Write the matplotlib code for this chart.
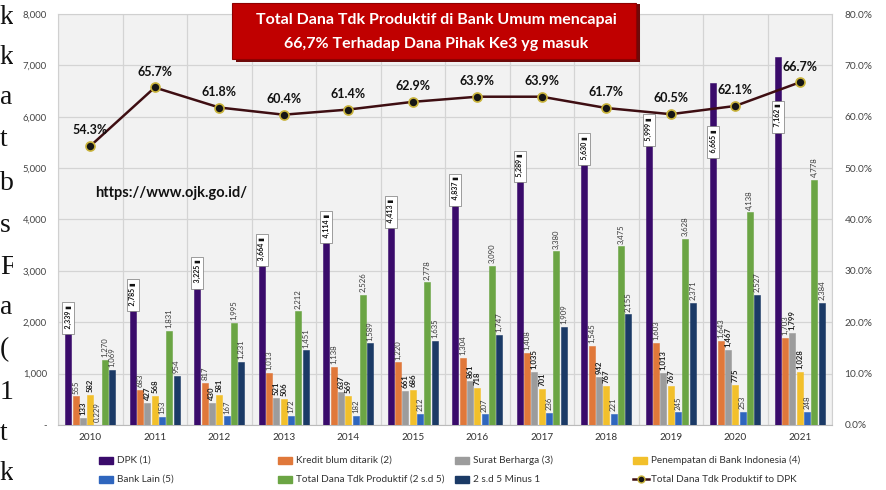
import matplotlib
matplotlib.use("Agg")
import matplotlib.pyplot as plt
from matplotlib.patches import Rectangle, FancyBboxPatch
from matplotlib.lines import Line2D
import numpy as np

plt.rcParams['font.family'] = ['Liberation Sans Narrow', 'Lato', 'DejaVu Sans']

years = ["2010", "2011", "2012", "2013", "2014", "2015", "2016", "2017", "2018", "2019", "2020", "2021"]
dpk = [2339, 2785, 3225, 3664, 4114, 4413, 4837, 5289, 5630, 5999, 6665, 7162]
kredit_blum_ditarik = [555, 683, 817, 1013, 1138, 1220, 1304, 1408, 1545, 1603, 1643, 1703]
surat_berharga = [133, 427, 430, 521, 637, 661, 861, 1035, 942, 1013, 1467, 1799]
penempatan_bi = [582, 568, 581, 506, 569, 686, 718, 701, 767, 767, 775, 1028]
bank_lain = [0.229, 153, 167, 172, 182, 212, 207, 236, 221, 245, 253, 248]
total_tdk_produktif = [1270, 1831, 1995, 2212, 2526, 2778, 3090, 3380, 3475, 3628, 4138, 4778]
minus_dpk = [1069, 954, 1231, 1451, 1589, 1635, 1747, 1909, 2155, 2371, 2527, 2384]
rasio_pct = [54.3, 65.7, 61.8, 60.4, 61.4, 62.9, 63.9, 63.9, 61.7, 60.5, 62.1, 66.7]

series_names = ["DPK (1)", "Kredit blum ditarik (2)", "Surat Berharga (3)",
                "Penempatan di Bank Indonesia (4)", "Bank Lain (5)",
                "Total Dana Tdk Produktif (2 s.d 5)", "2 s.d 5 Minus 1"]
line_name = "Total Dana Tdk Produktif to DPK"
title_lines = ["Total Dana Tdk Produktif di Bank Umum mencapai",
               "66,7% Terhadap Dana Pihak Ke3 yg masuk"]
source_text = "https://www.ojk.go.id/"

series = [dpk, kredit_blum_ditarik, surat_berharga, penempatan_bi,
          bank_lain, total_tdk_produktif, minus_dpk]
colors = ["#3A0B6B", "#E0783A", "#9C9C9C", "#F2C02B", "#2F66BE", "#6BA544", "#1B3A66"]
bold_labels = [True, False, True, True, False, False, False]

W, H = 886, 490
fig = plt.figure(figsize=(W / 100, H / 100), dpi=100)
fig.patch.set_facecolor("white")

# page fragments at the left edge, partly covered by the chart image
side_letters = ["k", "k", "a", "t", "b", "s", "F", "a", "(", "1", "t", "k"]
side_y = [18, 57, 98, 140, 183, 225, 268, 308, 350, 392, 433, 473]
for ch, yy in zip(side_letters, side_y):
    fig.text(0.0, 1 - yy / H, ch, family=["Liberation Serif", "DejaVu Serif"],
             fontsize=20, va="center", ha="left", color="#111111", zorder=-3)
fig.patches.append(Rectangle((13 / W, 0), 1, 1, transform=fig.transFigure,
                             facecolor="white", edgecolor="none", zorder=-2))

ax = fig.add_axes([58 / W, 1 - 425 / H, (832 - 58) / W, (425 - 14) / H])
ax.set_facecolor("#F2F2F2")
ax.set_zorder(1)

x = np.arange(len(years))
step = 0.113
width = 0.092
offsets = (np.arange(len(series)) - 3) * step

for k, (vals, col) in enumerate(zip(series, colors)):
    xs = x + offsets[k]
    ax.bar(xs, vals, width=width, color=col, edgecolor=col, linewidth=0.4, zorder=3)
    if k == 0:
        continue
    for xi, v in zip(xs, vals):
        txt = f"{v:,.0f}" if v >= 1 else f"{v:.3f}"
        ax.annotate(txt, (xi, v), xytext=(0, 2), textcoords="offset points",
                    rotation=90, ha="center", va="bottom", fontsize=5.6,
                    color="#222222" if bold_labels[k] else "#3A3A3A",
                    fontweight="bold" if bold_labels[k] else "normal", zorder=4)

# DPK labels sit in boxes at the top end of the bars
for i, (xi, v) in enumerate(zip(x + offsets[0], dpk)):
    drop = 900 if i >= 10 else 0
    ax.text(xi, v - drop, f"  {v:,.0f} \u25ae", rotation=90, ha="center", va="top",
            fontsize=5.0, fontweight="bold", color="#111111", zorder=5,
            family=["Lato", "DejaVu Sans"],
            bbox=dict(boxstyle="square,pad=0.35", facecolor="white",
                      edgecolor="#777777", linewidth=0.5))

ax.set_xlim(-0.5, len(years) - 0.5)
ax.set_ylim(0, 8000)
ax.set_yticks(np.arange(0, 8001, 1000))
ax.set_yticklabels(["-"] + [f"{v:,}" for v in range(1000, 8001, 1000)])
ax.set_xticks(x)
ax.set_xticklabels(years)
ax.set_xticks(np.arange(-0.5, len(years), 1), minor=True)
ax.tick_params(axis="x", which="both", length=0, labelsize=7.2, colors="#333333", pad=6)
ax.tick_params(axis="y", length=0, labelsize=6.8, colors="#444444", pad=8)
ax.grid(axis="y", which="major", color="#D4D4D4", linewidth=0.9, zorder=0)
ax.grid(axis="x", which="minor", color="#D4D4D4", linewidth=0.9, zorder=0)
for s in ax.spines.values():
    s.set_color("#D0D0D0")
    s.set_linewidth(0.8)
ax.spines["bottom"].set_color("#BBBBBB")

ax2 = ax.twinx()
ax2.set_ylim(0, 80)
ax2.set_yticks(np.arange(0, 81, 10))
ax2.set_yticklabels([f"{v:.1f}%" for v in range(0, 81, 10)])
ax2.tick_params(axis="y", length=0, labelsize=7.3, colors="#444444", pad=9)
for s in ax2.spines.values():
    s.set_visible(False)
ax2.plot(x, rasio_pct, color="#3E0E12", linewidth=1.8, marker="o", markersize=6.5,
         markerfacecolor="#151515", markeredgecolor="#C9B33A", markeredgewidth=1.2,
         zorder=6)
for xi, v in zip(x, rasio_pct):
    ax2.annotate(f"{v:.1f}%", (xi, v), xytext=(0, 7), textcoords="offset points",
                 ha="center", va="bottom", fontsize=9, fontweight="bold",
                 color="#111111", zorder=7)

# headline banner with a drop shadow
fig.patches.append(FancyBboxPatch((236 / W, 1 - 62 / H), (640 - 236) / W, (62 - 4) / H,
                                  boxstyle="square,pad=0", transform=fig.transFigure,
                                  facecolor="#6E0A0A", edgecolor="none", zorder=8))
fig.patches.append(FancyBboxPatch((232 / W, 1 - 59 / H), (636 - 232) / W, (59 - 3) / H,
                                  boxstyle="square,pad=0", transform=fig.transFigure,
                                  facecolor="#C00000", edgecolor="#8E0000",
                                  linewidth=0.8, zorder=9))
fig.text(436 / W, 1 - 20 / H, title_lines[0], ha="center", va="center",
         fontsize=11.5, fontweight="bold", color="white", zorder=10)
fig.text(436 / W, 1 - 44 / H, title_lines[1], ha="center", va="center",
         fontsize=11.5, fontweight="bold", color="white", zorder=10)

fig.text(95 / W, 1 - 193 / H, source_text, ha="left", va="center",
         fontsize=10.5, fontweight="bold", color="#111111", zorder=10)

# legend, two rows of four entries
col_x = [99, 278, 455, 633]
row_y = [460, 479]
entries = list(zip(series_names, colors)) + [(line_name, None)]
for n, (name, col) in enumerate(entries):
    cx = col_x[n % 4] / W
    cy = 1 - row_y[n // 4] / H
    if col is not None:
        fig.patches.append(Rectangle((cx, cy - 3.5 / H), 14 / W, 7 / H,
                                     transform=fig.transFigure, facecolor=col,
                                     edgecolor=col, zorder=10))
    else:
        fig.lines.append(Line2D([cx, cx + 16 / W], [cy, cy], transform=fig.transFigure,
                                color="#3E0E12", linewidth=1.8, zorder=10))
        fig.lines.append(Line2D([cx + 8 / W], [cy], transform=fig.transFigure,
                                color="#151515", marker="o", markersize=5,
                                markeredgecolor="#C9B33A", linestyle="none", zorder=11))
    fig.text(cx + 18 / W, cy, name, ha="left", va="center", fontsize=7.2,
             color="#333333", zorder=10)

fig.savefig("out.png", dpi=100)
